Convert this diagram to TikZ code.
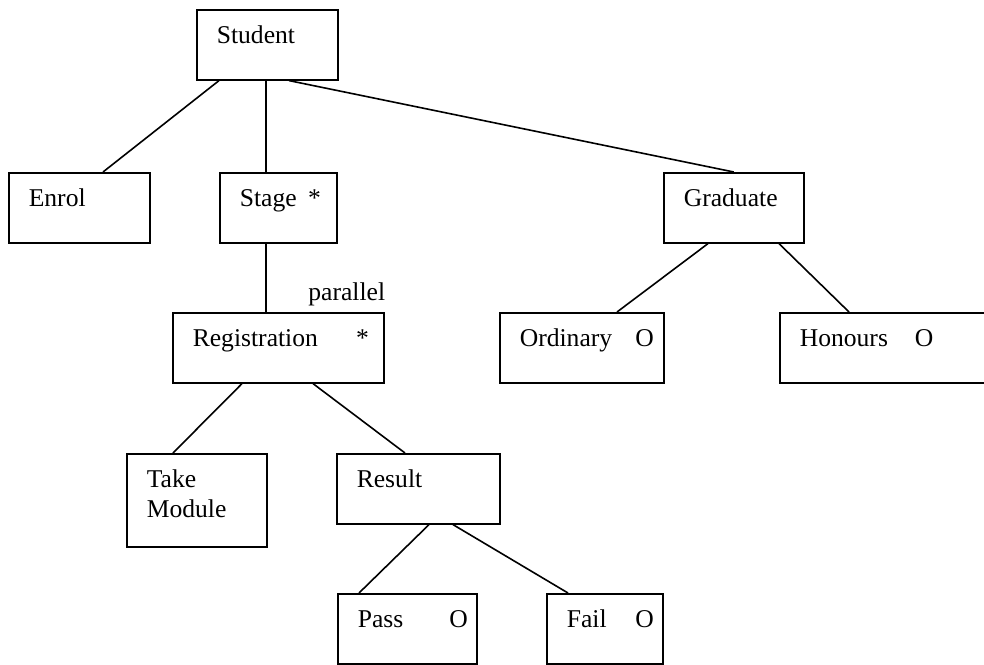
\documentclass[tikz,border=0pt]{standalone}
\usepackage{fontspec}
\setmainfont{Liberation Serif}
\usetikzlibrary{calc}
\tikzset{box/.style={draw,line width=0.8pt,anchor=north west,inner sep=0pt,align=left,
    text height=17pt,text depth=18pt,font=\fontsize{12.8}{15}\selectfont,
    execute at begin node={\leftskip=10pt}}}
\tikzset{l/.style={font=\fontsize{12.8}{15}\selectfont}}
\tikzset{ln/.style={line width=0.8pt}}
\newcommand{\gap}{\hskip 0pt plus 1filll}

\begin{document}
\begin{tikzpicture}[x=0.5pt,y=-0.5pt]
  \useasboundingbox (0,0) rectangle (984,664);
  \clip (0,0) rectangle (984,664);
  \node[box,text width=70.5pt] (stu) at (196,9) {Student};
  \node[box,text width=70.5pt] (enr) at (8,172) {Enrol};
  \node[box,text width=58.5pt] (stg) at (219,172) {Stage\gap *\kern8pt};
  \node[box,text width=70pt] (gra) at (663,172) {Graduate};
  \node[box,text width=105.5pt] (reg) at (172,312) {Registration\gap *\kern7.5pt};
  \node[l,anchor=base west,inner sep=0pt] (par) at (308,300) {parallel};
  \node[box,text width=82pt] (ord) at (499,312) {Ordinary\gap O\kern5pt};
  \node[box,text width=115pt] (hon) at (779,312) {Honours\hspace{13.5pt}O};
  \node[box,text width=70pt,text depth=29.5pt] (tak) at (126,453) {Take\\Module};
  \node[box,text width=81.5pt] (res) at (336,453) {Result};
  \node[box,text width=69.5pt] (pas) at (337,593) {Pass\gap O\kern4.5pt};
  \node[box,text width=58pt] (fai) at (546,593) {Fail\gap O\kern4.5pt};
  % tree lines
  \draw[ln] ($(stu.south west)+(23,0)$) -- ($(enr.north west)+(95,0)$);
  \draw[ln] ($(stu.south west)+(70,0)$) -- ($(stg.north west)+(47,0)$);
  \draw[ln] ($(stu.south west)+(93,0)$) -- (gra.north);
  \draw[ln] ($(gra.south west)+(45,0)$) -- ($(ord.north west)+(118,0)$);
  \draw[ln] ($(gra.south west)+(116,0)$) -- ($(hon.north west)+(70,0)$);
  \draw[ln] ($(stg.south west)+(47,0)$) -- ($(reg.north west)+(94,0)$);
  \draw[ln] ($(reg.south west)+(70,0)$) -- ($(tak.north west)+(47,0)$);
  \draw[ln] ($(reg.south west)+(141,0)$) -- ($(res.north west)+(69,0)$);
  \draw[ln] ($(res.south west)+(93,0)$) -- ($(pas.north west)+(22,0)$);
  \draw[ln] ($(res.south west)+(117,0)$) -- ($(fai.north west)+(22,0)$);
\end{tikzpicture}
\end{document}
